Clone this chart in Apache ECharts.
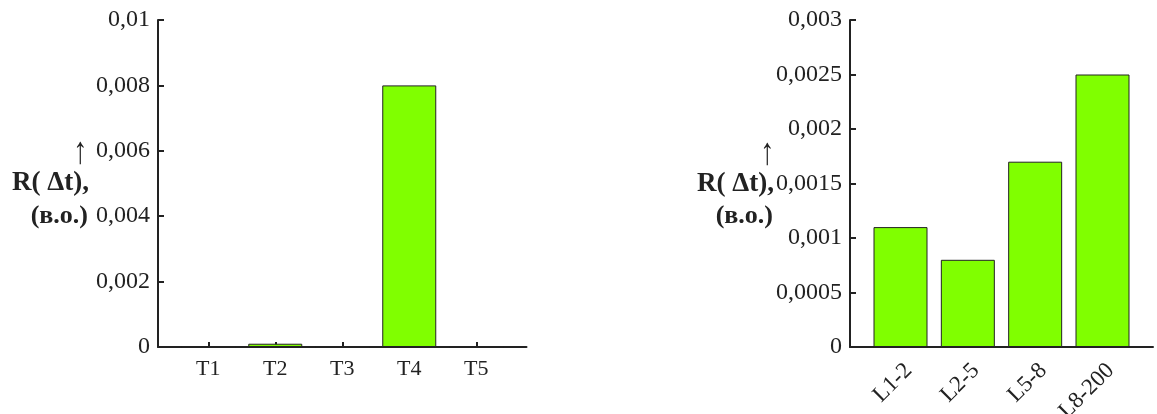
<!DOCTYPE html>
<html>
<head>
<meta charset="utf-8">
<script src="https://cdn.jsdelivr.net/npm/echarts@6/dist/echarts.min.js"></script>
<style>
  html, body { margin: 0; padding: 0; background: #fff; }
  #chart { width: 1157px; height: 414px; }
</style>
</head>
<body>
<div id="chart"></div>
<script>
// Left panel: response by T-group
const tCategories = ['T1', 'T2', 'T3', 'T4', 'T5'];
const tValues = [0, 0.0001, 0, 0.008, 0];
const tYTicks = ['0', '0,002', '0,004', '0,006', '0,008', '0,01'];

// Right panel: response by L-range
const lCategories = ['L1-2', 'L2-5', 'L5-8', 'L8-200'];
const lValues = [0.0011, 0.0008, 0.0017, 0.0025];
const lYTicks = ['0', '0,0005', '0,001', '0,0015', '0,002', '0,0025', '0,003'];

const axisTitle = ['R( Δt),', '(в.о.)'];

const SERIF = '"Liberation Serif", "DejaVu Serif", serif';
const AXIS_COLOR = '#222';
const BAR_COLOR = '#80ff00';

function xAxisFor(gridIndex, cats, rotate) {
  const positions = cats.map((_, i) => i + 1);
  const label = {
    customValues: positions,
    formatter: v => cats[Math.round(v) - 1] || '',
    fontFamily: SERIF, fontSize: rotate ? 23 : 22, color: '#222',
    rotate: rotate, margin: rotate ? 12 : 11
  };
  if (rotate) label.verticalAlign = 'top';
  return {
    type: 'value', gridIndex,
    min: 0.25, max: cats.length + 0.75,
    splitLine: { show: false },
    axisLine: { lineStyle: { color: AXIS_COLOR, width: 2 } },
    axisTick: { inside: true, length: 5, customValues: positions,
                lineStyle: { color: AXIS_COLOR, width: 2 } },
    axisLabel: label
  };
}

function yAxisFor(gridIndex, max, interval, labels) {
  return {
    type: 'value', gridIndex,
    min: 0, max, interval,
    splitLine: { show: false },
    axisLine: { show: true, lineStyle: { color: AXIS_COLOR, width: 2 } },
    axisTick: { show: true, inside: true, length: 6,
                lineStyle: { color: AXIS_COLOR, width: 2 } },
    axisLabel: {
      formatter: v => labels[Math.round(v / interval)] || '',
      fontFamily: SERIF, fontSize: 24, color: '#222', margin: 8
    }
  };
}

function barSeries(idx, values) {
  return {
    type: 'bar', xAxisIndex: idx, yAxisIndex: idx,
    data: values.map((v, i) => [i + 1, v]),
    barWidth: 54,
    itemStyle: { color: BAR_COLOR, borderColor: '#222', borderWidth: 1 },
    emphasis: { disabled: true },
    animation: false
  };
}

// Vertical axis caption: arrow, quantity and unit, stacked to the left of the axis
function titleBlock(arrowX, arrowY, rightX, yR, yUnit) {
  return [
    { type: 'text', x: arrowX, y: arrowY, scaleX: 0.75,
      style: { text: '↑', font: '38px ' + SERIF, fill: '#222',
               align: 'center', verticalAlign: 'middle' } },
    { type: 'text', x: rightX, y: yR,
      style: { text: axisTitle[0], font: 'bold 27px ' + SERIF, fill: '#222',
               align: 'right', verticalAlign: 'middle' } },
    { type: 'text', x: rightX - 1, y: yUnit,
      style: { text: axisTitle[1], font: 'bold 26px ' + SERIF, fill: '#222',
               align: 'right', verticalAlign: 'middle' } }
  ];
}

const chart = echarts.init(document.getElementById('chart'), null, { renderer: 'canvas' });
chart.setOption({
  animation: false,
  backgroundColor: '#fff',
  grid: [
    { left: 158, top: 20, width: 368.5, height: 327, outerBoundsMode: 'none', containLabel: false },
    { left: 850, top: 20, width: 303, height: 327, outerBoundsMode: 'none', containLabel: false }
  ],
  xAxis: [xAxisFor(0, tCategories, 0), xAxisFor(1, lCategories, 45)],
  yAxis: [yAxisFor(0, 0.01, 0.002, tYTicks), yAxisFor(1, 0.003, 0.0005, lYTicks)],
  series: [barSeries(0, tValues), barSeries(1, lValues)],
  graphic: [
    ...titleBlock(80, 153, 89, 183, 216),
    ...titleBlock(767, 154, 774, 184, 216)
  ]
});
</script>
</body>
</html>
